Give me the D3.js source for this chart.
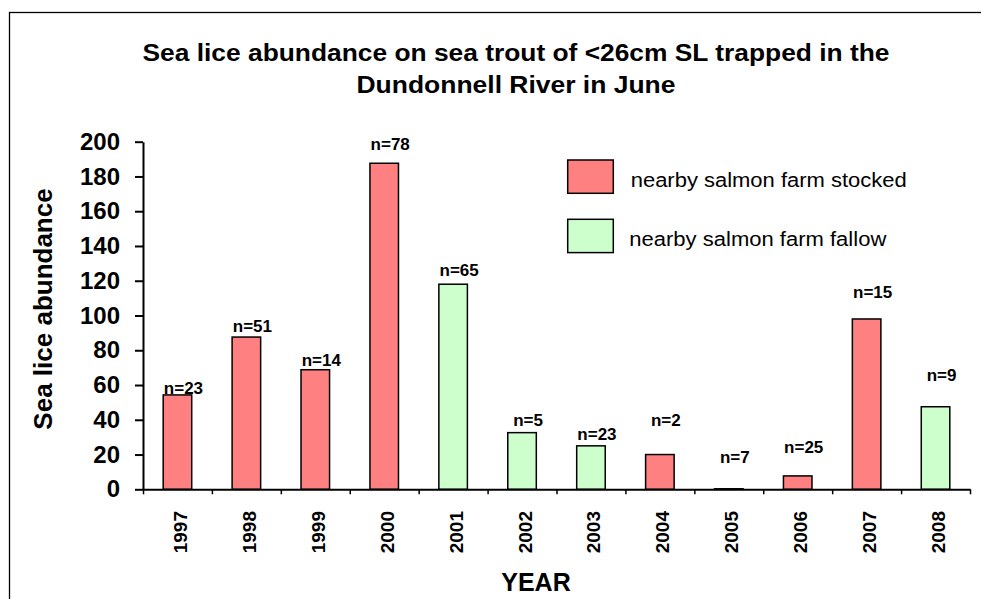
<!DOCTYPE html>
<html><head><meta charset="utf-8">
<script src="https://cdn.jsdelivr.net/npm/d3@7"></script>
<style>
html,body{margin:0;padding:0;background:#fff;}
svg{display:block;font-family:"Liberation Sans",Arial,sans-serif;}
</style></head>
<body>
<svg id="c" width="981" height="599"></svg>
<script>
const years = ["1997","1998","1999","2000","2001","2002","2003","2004","2005","2006","2007","2008"];
const abundance = [54.3, 87.6, 68.8, 187.6, 118, 32.6, 25, 20, 0.3, 7.7, 98, 47.5];
const farmStatus = ["stocked","stocked","stocked","stocked","fallow","fallow","fallow","stocked","stocked","stocked","stocked","fallow"];
const sampleLabels = ["n=23","n=51","n=14","n=78","n=65","n=5","n=23","n=2","n=7","n=25","n=15","n=9"];
const labelLevels = [54.8, 90.3, 71.1, 195.2, 122.9, 36.4, 28.4, 36.6, 15.2, 20.8, 109.9, 62.4];
const yTicks = [0,20,40,60,80,100,120,140,160,180,200];
const legendKeys = ["stocked","fallow"];
const legendLabels = ["nearby salmon farm stocked","nearby salmon farm fallow"];
const titleLines = ["Sea lice abundance on sea trout of <26cm SL trapped in the","Dundonnell River in June"];

const colors = {stocked:"#FF8080", fallow:"#CCFFCC"};
const svg = d3.select("#c");

// outer frame
svg.append("rect").attr("x",9.5).attr("y",12.5).attr("width",1000).attr("height",700)
  .attr("fill","none").attr("stroke","#000").attr("stroke-width",1.3);

const pLeft = 143, pRight = 970, pTop = 141.7, pBottom = 489.3;
const y = d3.scaleLinear().domain([0,200]).range([pBottom, pTop]);
const x = d3.scaleBand().domain(years).range([pLeft,pRight]).paddingInner(0.586).paddingOuter(0.293);
const xb = d3.scaleLinear().domain([0,years.length]).range([pLeft,pRight]);

// title
const tw = [747, 319];
svg.append("g").selectAll("text").data(titleLines).join("text")
  .attr("x",516).attr("y",(d,i)=>61+i*32)
  .attr("text-anchor","middle").attr("font-weight","bold").attr("font-size",23)
  .attr("textLength",(d,i)=>tw[i]).attr("lengthAdjust","spacingAndGlyphs")
  .text(d=>d);

// bars
svg.append("g").selectAll("rect").data(years).join("rect")
  .attr("x",d=>x(d)).attr("width",x.bandwidth())
  .attr("y",(d,i)=>y(abundance[i])).attr("height",(d,i)=>y(0)-y(abundance[i]))
  .attr("fill",(d,i)=>colors[farmStatus[i]]).attr("stroke","#000").attr("stroke-width",1.5);

// n labels
svg.append("g").selectAll("text").data(years).join("text")
  .attr("x",d=>x(d)+x.bandwidth()/2+6).attr("y",(d,i)=>y(labelLevels[i]))
  .attr("text-anchor","middle").attr("font-weight","bold").attr("font-size",17)
  .text((d,i)=>sampleLabels[i]);

// y axis
const ya = svg.append("g").attr("transform",`translate(${pLeft},0)`)
  .call(d3.axisLeft(y).tickValues(yTicks).tickSize(8).tickSizeOuter(0).tickPadding(15));
ya.select(".domain").attr("stroke","#000").attr("stroke-width",2);
ya.selectAll(".tick line").attr("stroke","#000").attr("stroke-width",2);
ya.selectAll(".tick text").attr("font-family","Liberation Sans, Arial, sans-serif")
  .attr("font-size",24).attr("font-weight","bold").attr("fill","#000");

// x axis
const xa = svg.append("g").attr("transform",`translate(0,${pBottom})`)
  .call(d3.axisBottom(xb).tickValues(d3.range(years.length+1)).tickSize(5).tickSizeOuter(0).tickFormat(""));
xa.select(".domain").attr("stroke","#000").attr("stroke-width",2);
xa.selectAll(".tick line").attr("stroke","#000").attr("stroke-width",1.5);

// year labels
svg.append("g").selectAll("text").data(years).join("text")
  .attr("transform",d=>`translate(${x(d)+x.bandwidth()/2+9.5},511) rotate(-90)`)
  .attr("text-anchor","end").attr("font-weight","bold").attr("font-size",19)
  .text(d=>d);

// axis titles
svg.append("text").attr("x",536).attr("y",590.5).attr("text-anchor","middle")
  .attr("font-weight","bold").attr("font-size",25).text("YEAR");
svg.append("text").attr("transform","translate(51.5,309) rotate(-90)").attr("text-anchor","middle")
  .attr("font-weight","bold").attr("font-size",26).text("Sea lice abundance");

// legend
const lg = svg.append("g").selectAll("g").data(legendKeys).join("g")
  .attr("transform",(d,i)=>`translate(567.7,${160+i*59.3})`);
lg.append("rect").attr("width",45.6).attr("height",33.3)
  .attr("fill",d=>colors[d]).attr("stroke","#000").attr("stroke-width",1.5);
const lw = [276, 257];
lg.append("text").attr("x",(d,i)=>i===0?63:61.6).attr("y",26.7).attr("font-size",20)
  .attr("textLength",(d,i)=>lw[i]).attr("lengthAdjust","spacingAndGlyphs")
  .text((d,i)=>legendLabels[i]);
</script>
</body></html>
